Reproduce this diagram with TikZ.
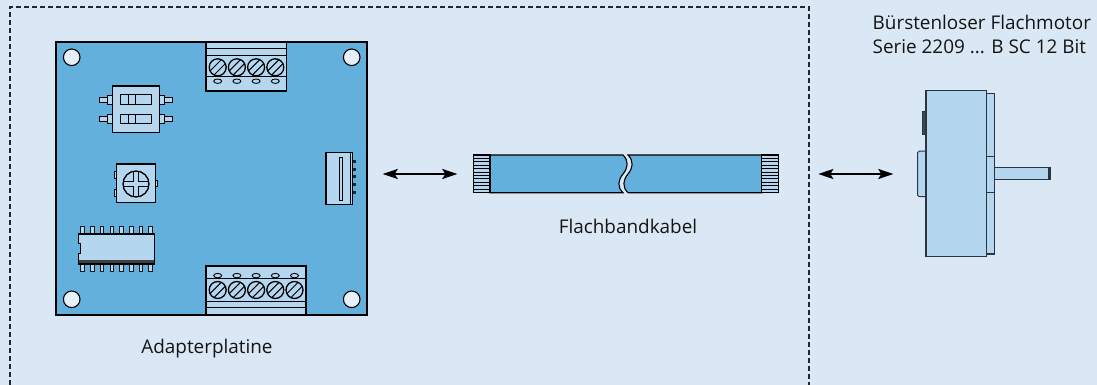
\documentclass[tikz,border=0pt]{standalone}
\usepackage{fontspec}
\setmainfont{Open Sans}
\usetikzlibrary{arrows.meta}

\definecolor{bgblue}{HTML}{DAE8F5}
\definecolor{pcbblue}{HTML}{63B0DC}
\definecolor{partblue}{HTML}{B5D6EF}
\definecolor{holefill}{HTML}{E6F0F9}
\definecolor{motorline}{HTML}{2A3540}
\definecolor{darkpart}{HTML}{3A4A58}
\definecolor{textgray}{HTML}{141414}

\tikzset{
  outline/.style={draw=black, line width=1.1pt},
  part/.style={outline, fill=partblue},
  lbl/.style={inner sep=0pt, text=textgray, font=\fontsize{18.9}{23}\selectfont},
  link/.style={line width=2pt, {Stealth[length=15pt,width=10pt,inset=3pt]}-{Stealth[length=15pt,width=10pt,inset=3pt]}},
  hole/.pic={\draw[line width=1.1pt, fill=holefill] (0,0) circle (8.3pt);},
  screw/.pic={
    \begin{scope}
      \clip (0,0) circle (8.5pt);
      \draw[line width=1pt] (-6,10) -- (10,-6);
      \draw[line width=1pt] (-10,6) -- (6,-10);
    \end{scope}
    \draw[line width=1.3pt] (0,0) circle (8.5pt);
  },
  nub/.pic={\draw[line width=0.9pt] (0,0) ellipse (4pt and 2.2pt);},
  icpin/.pic={\draw[line width=1pt, draw=black!90, fill=partblue] (-1.8,0) rectangle (1.8,7.6);},
}

\begin{document}
\begin{tikzpicture}[x=1pt, y=-1pt]
  % background and frame
  \fill[bgblue] (0,0) rectangle (1097,385);
  \useasboundingbox (0,0) rectangle (1097,385);
  \draw[draw=black!85, line width=1.2pt, dash pattern=on 5pt off 3pt]
    (10,385) -- (10,7) -- (809,7) -- (809,385);

  % ---------- adapter board ----------
  \draw[outline, line width=1.4pt, fill=pcbblue] (56,42) rectangle (367,315);
  \pic at (71.7,57.3) {hole};
  \pic at (351.7,57.3) {hole};
  \pic at (71.7,299.3) {hole};
  \pic at (351.7,299.3) {hole};

  % top terminal block (4 ways)
  \draw[part] (206,42) rectangle (286.7,91);
  \draw[line width=0.9pt] (206,48.3) -- (286.7,48.3);
  \draw[line width=0.9pt] (206,55) -- (286.7,55);
  \draw[line width=0.9pt] (206,76) -- (286.7,76);
  \foreach \x in {217.7,236.9,256.1,275.3} {
    \pic at (\x,67.3) {screw};
    \pic at (\x,81.2) {nub};
  }

  % bottom terminal block (5 ways)
  \draw[part] (206,266) rectangle (306,315);
  \draw[line width=0.9pt] (206,278.3) -- (306,278.3);
  \draw[line width=0.9pt] (206,301.7) -- (306,301.7);
  \draw[line width=0.9pt] (206,307.7) -- (306,307.7);
  \foreach \x in {217.7,236.9,256.1,275.3,294.5} {
    \pic at (\x,290) {screw};
    \pic at (\x,275.6) {nub};
  }

  % DIP switch
  \foreach \y in {99.8,119} {
    \draw[part, line width=0.9pt] (99.3,\y-2.2) rectangle (107.3,\y+2.2);
    \draw[part, line width=0.9pt] (107.3,\y-4.6) rectangle (112.3,\y+4.6);
    \draw[part, line width=0.9pt] (164.7,\y-2.2) rectangle (172.7,\y+2.2);
    \draw[part, line width=0.9pt] (159.7,\y-4.6) rectangle (164.7,\y+4.6);
  }
  \draw[part] (112.3,86) rectangle (159.7,132.3);
  \foreach \y in {95,114.3} {
    \draw[line width=1pt] (120.7,\y) rectangle (151.3,\y+9.3);
    \draw[line width=1pt] (128.3,\y) rectangle (135.3,\y+9.3);
  }

  % trimmer potentiometer
  \draw[part, line width=0.9pt] (114,171.7) rectangle (116.7,178.3);
  \draw[part, line width=0.9pt] (114,189.3) rectangle (116.7,196);
  \draw[part, line width=0.9pt] (155.3,180) rectangle (157.6,186.7);
  \draw[part] (116.7,164) rectangle (155.3,202.3);
  \begin{scope}
    \clip (136,184) circle (13pt);
    \draw[line width=1pt] (133.5,160) -- (133.5,181.5) -- (110,181.5);
    \draw[line width=1pt] (138.5,160) -- (138.5,181.5) -- (160,181.5);
    \draw[line width=1pt] (133.5,210) -- (133.5,186.5) -- (110,186.5);
    \draw[line width=1pt] (138.5,210) -- (138.5,186.5) -- (160,186.5);
  \end{scope}
  \draw[line width=1.3pt] (136,184) circle (13pt);

  % SO16 chip
  \foreach \i in {0,...,7} {
    \pic at (82.7+9.71*\i,226.4) {icpin};
    \pic at (82.7+9.71*\i,264) {icpin};
  }
  \draw[part] (78.3,234) -- (154.3,234) -- (154.3,264) -- (78.3,264)
    -- (78.3,253.3) -- (80.3,253.3) -- (80.3,243.3) -- (78.3,243.3) -- cycle;
  \draw[line width=2.2pt, draw=black!75] (79,261.5) -- (153.6,261.5);

  % ribbon socket
  \foreach \y in {161.7,169.3,176.7,184.3,192.3}
    \fill[black!85] (352.7,\y-1.6) rectangle (356,\y+1.6);
  \draw[part] (326,152.3) rectangle (352.7,204.7);
  \draw[line width=0.8pt] (350,152.3) -- (350,204.7);
  \draw[line width=1pt, fill=partblue] (339.3,157.3) rectangle (342.7,200);

  % ---------- ribbon cable ----------
  \draw[outline, fill=pcbblue]
    (490,155) -- (623,155)
      .. controls (629,161) and (628,168) .. (623,174)
      .. controls (618,180) and (617,187) .. (623,192.7)
    -- (490,192.7) -- cycle;
  \draw[outline, fill=pcbblue]
    (761.7,155) -- (628,155)
      .. controls (634,161) and (633,168) .. (628,174)
      .. controls (623,180) and (622,187) .. (628,192.7)
    -- (761.7,192.7) -- cycle;
  \foreach \xa/\xb in {473.3/490, 761.7/778.3} {
    \draw[part] (\xa,155) rectangle (\xb,192.7);
    \foreach \y in {158.4,161.8,...,190} \draw[line width=0.7pt] (\xa,\y) -- (\xb,\y);
  }

  % ---------- motor ----------
  \begin{scope}[draw=motorline]
    \fill[darkpart, draw=motorline, line width=0.9pt] (922.7,111) rectangle (926,134.3);
    \draw[line width=1pt, fill=partblue, rounded corners=1.5pt] (926,151) -- (917.7,151) -- (917.7,196.7) -- (926,196.7);
    \draw[line width=1.1pt, fill=partblue] (994.3,167.7) rectangle (1050.7,179.3);
    \draw[line width=1.1pt, fill=motorline] (1048.2,167.7) rectangle (1050.7,179.3);
    \draw[line width=1.1pt, fill=partblue] (986.7,93.3) rectangle (994.3,254);
    \draw[line width=1pt] (986.7,156) -- (994.3,156);
    \draw[line width=1pt] (986.7,192) -- (994.3,192);
    \draw[line width=1.3pt, fill=partblue] (926,90.7) rectangle (986.7,256.7);
  \end{scope}

  % ---------- links ----------
  \coordinate (boardport) at (382.7,174);
  \coordinate (cableleft) at (457.3,174);
  \coordinate (cableright) at (818.3,174);
  \coordinate (motorport) at (893.3,174);
  \draw[link] (boardport) -- (cableleft);
  \draw[link] (cableright) -- (motorport);

  % ---------- labels ----------
  \node[lbl, anchor=base] (cablelabel) at (628,233.3) {Flachbandkabel};
  \node[lbl, anchor=base] (boardlabel) at (207,353.5) {Adapterplatine};
  \node[lbl, anchor=base west] (motorname) at (872.5,29.5) {Bürstenloser Flachmotor};
  \node[lbl, anchor=base west] (motorseries) at (872.5,54) {Serie 2209 ... B SC 12 Bit};
\end{tikzpicture}
\end{document}
